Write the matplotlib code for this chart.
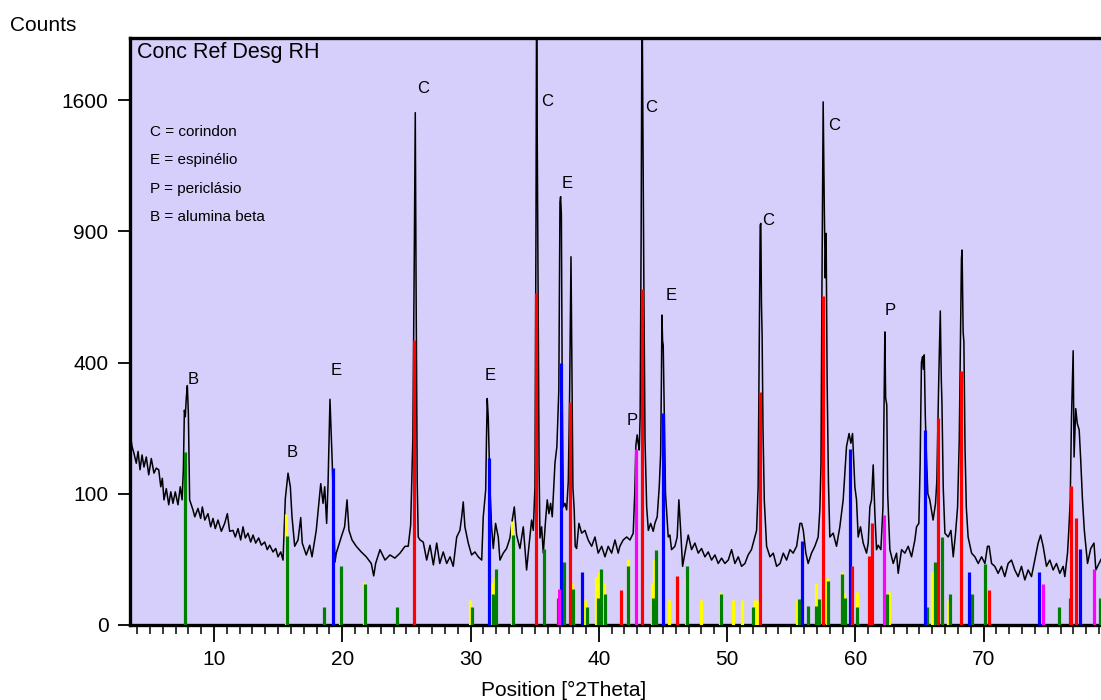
import numpy as np
import matplotlib
matplotlib.use('Agg')
import matplotlib.pyplot as plt
from matplotlib.ticker import NullLocator

plt.rcParams['font.family'] = ['Liberation Sans', 'DejaVu Sans']

# Measured pattern (position in deg 2Theta, counts)
two_theta = [
    3.45, 3.51, 3.61, 3.76, 3.94, 4.08, 4.23, 4.39, 4.54, 4.72, 4.91, 5.11, 5.32, 5.50, 5.69, 5.85,
    5.97, 6.10, 6.28, 6.47, 6.63, 6.80, 6.98, 7.19, 7.37, 7.51, 7.61, 7.69, 7.76, 7.84, 7.92, 8.00,
    8.10, 8.36, 8.50, 8.75, 8.96, 9.09, 9.28, 9.53, 9.74, 9.92, 10.10, 10.31, 10.57, 10.83, 11.04, 11.22,
    11.48, 11.66, 11.87, 12.08, 12.26, 12.44, 12.65, 12.86, 13.04, 13.25, 13.48, 13.69, 13.95, 14.15,
    14.34, 14.60, 14.81, 14.99, 15.20, 15.38, 15.56, 15.77, 15.95, 16.08, 16.29, 16.55, 16.76, 16.88,
    17.19, 17.46, 17.64, 17.97, 18.32, 18.50, 18.63, 18.78, 18.89, 19.04, 19.22, 19.43, 19.53, 19.92,
    20.18, 20.37, 20.52, 20.76, 21.09, 21.48, 21.87, 22.26, 22.45, 22.60, 22.94, 23.33, 23.72, 24.10,
    24.50, 24.89, 25.14, 25.33, 25.50, 25.60, 25.69, 25.76, 25.84, 25.92, 26.06, 26.31, 26.58, 26.84,
    27.10, 27.36, 27.60, 27.87, 28.14, 28.40, 28.65, 28.92, 29.17, 29.31, 29.43, 29.56, 29.82, 30.08,
    30.34, 30.60, 30.87, 30.99, 31.18, 31.24, 31.30, 31.38, 31.51, 31.64, 31.77, 31.95, 32.16, 32.29,
    32.55, 32.81, 33.07, 33.25, 33.41, 33.59, 33.85, 34.11, 34.37, 34.55, 34.76, 34.89, 35.02, 35.10,
    35.15, 35.20, 35.27, 35.34, 35.41, 35.54, 35.67, 35.85, 35.98, 36.11, 36.24, 36.37, 36.58, 36.73,
    36.88, 36.97, 37.02, 37.08, 37.15, 37.23, 37.36, 37.49, 37.62, 37.72, 37.83, 37.90, 37.98, 38.08,
    38.16, 38.27, 38.45, 38.66, 38.92, 39.17, 39.44, 39.70, 39.95, 40.22, 40.48, 40.73, 41.00, 41.26,
    41.51, 41.64, 41.90, 42.17, 42.43, 42.68, 42.80, 42.89, 42.99, 43.08, 43.15, 43.22, 43.30, 43.37,
    43.45, 43.52, 43.60, 43.73, 43.86, 44.04, 44.24, 44.37, 44.55, 44.71, 44.82, 44.88, 44.92, 44.97,
    45.02, 45.12, 45.20, 45.28, 45.41, 45.54, 45.67, 45.93, 46.11, 46.24, 46.38, 46.53, 46.71, 46.97,
    47.23, 47.49, 47.75, 48.01, 48.27, 48.53, 48.79, 49.05, 49.31, 49.57, 49.83, 50.09, 50.35, 50.61,
    50.87, 51.13, 51.39, 51.64, 51.90, 52.10, 52.30, 52.42, 52.52, 52.58, 52.63, 52.68, 52.73, 52.80,
    52.90, 53.08, 53.34, 53.60, 53.86, 54.13, 54.38, 54.64, 54.90, 55.15, 55.42, 55.68, 55.81, 55.94,
    56.14, 56.32, 56.58, 56.84, 57.10, 57.23, 57.32, 57.40, 57.49, 57.58, 57.65, 57.72, 57.80, 57.90,
    58.01, 58.27, 58.53, 58.79, 59.05, 59.31, 59.51, 59.65, 59.78, 59.96, 60.09, 60.22, 60.40, 60.61,
    60.87, 61.00, 61.13, 61.26, 61.39, 61.52, 61.65, 61.78, 61.99, 62.15, 62.24, 62.30, 62.36, 62.45,
    62.52, 62.69, 62.95, 63.21, 63.34, 63.60, 63.86, 64.12, 64.38, 64.64, 64.77, 64.95, 65.05, 65.15,
    65.24, 65.30, 65.37, 65.45, 65.55, 65.65, 65.80, 66.06, 66.25, 66.35, 66.50, 66.62, 66.70, 66.75,
    66.85, 66.98, 67.24, 67.45, 67.63, 67.81, 67.97, 68.10, 68.20, 68.27, 68.32, 68.40, 68.46, 68.55,
    68.65, 68.79, 69.06, 69.32, 69.58, 69.84, 70.10, 70.30, 70.43, 70.62, 70.87, 71.13, 71.39, 71.65,
    71.91, 72.17, 72.43, 72.69, 72.95, 73.21, 73.47, 73.73, 73.99, 74.25, 74.44, 74.64, 74.90, 75.16,
    75.42, 75.68, 75.94, 76.20, 76.33, 76.54, 76.64, 76.75, 76.85, 76.98, 77.05, 77.18, 77.30, 77.45,
    77.58, 77.70, 77.85, 78.10, 78.35, 78.60, 78.75, 79.15,
]
counts = [
    215, 203, 185, 171, 152, 175, 140, 168, 145, 164, 131, 161, 134, 143, 140, 111,
    125, 91, 108, 84, 103, 86, 103, 84, 111, 91, 140, 268, 252, 300, 333, 261,
    91, 77, 68, 79, 66, 81, 64, 72, 56, 66, 54, 64, 51, 60, 72, 51,
    52, 45, 54, 42, 56, 44, 49, 40, 47, 39, 44, 37, 40, 33,
    37, 31, 34, 27, 31, 24.5, 93, 134, 111, 68, 36, 42, 67, 39,
    28.5, 37, 27, 52, 116, 86, 111, 60, 116, 296, 151, 23, 30, 45,
    56, 91, 52, 42, 36, 31, 27, 22, 14, 22, 33, 24.5, 28.5, 26,
    30, 36, 36, 58, 200, 700, 1525, 600, 120, 45, 42, 40, 24.5, 37,
    21, 39, 22, 31, 22, 27, 20, 45, 52, 68, 88, 56, 39, 28.5,
    31, 27, 24.5, 68, 106, 200, 298, 250, 111, 56, 34, 60, 45, 24.5,
    30, 34, 44, 64, 81, 47, 34, 56, 17.6, 36, 64, 52, 111, 900,
    2400, 1370, 600, 150, 44, 56, 30, 64, 91, 72, 86, 68, 152, 185,
    320, 1040, 1066, 980, 300, 81, 86, 77, 120, 300, 788, 400, 110, 77,
    36, 34, 60, 49, 52, 42, 36, 45, 30, 36, 27, 36, 30, 42,
    30, 36, 42, 45, 42, 49, 100, 188, 210, 190, 178, 250, 900, 2400,
    1300, 600, 200, 81, 52, 60, 51, 60, 68, 111, 171, 350, 558, 470,
    455, 220, 100, 77, 45, 47, 33, 36, 45, 91, 52, 20, 30, 47,
    33, 39, 30, 34, 27, 31, 24.5, 28.5, 22, 26, 22, 24.5, 33, 22,
    27, 20, 22, 28.5, 33, 42, 52, 110, 500, 930, 937, 600, 488, 221,
    90, 36, 27, 30, 20, 22, 30, 24.5, 33, 30, 36, 60, 60, 52,
    30, 22, 30, 36, 45, 77, 150, 700, 1590, 1000, 700, 891, 340, 120,
    45, 49, 36, 56, 91, 185, 213, 192, 213, 111, 91, 45, 56, 39,
    30, 39, 81, 91, 149, 72, 33, 37, 33, 80, 300, 499, 300, 281,
    100, 33, 22, 30, 15.5, 33, 30, 36, 27, 42, 56, 60, 150, 400,
    418, 380, 424, 256, 160, 100, 91, 64, 86, 120, 350, 573, 350, 287,
    110, 49, 45, 52, 27, 49, 81, 200, 500, 780, 817, 500, 466, 180,
    80, 45, 30, 27, 22, 27, 22, 36, 36, 22, 20, 15.5, 20, 13.6,
    22, 24.5, 17.6, 13.6, 20, 11.8, 17.6, 13.6, 24.5, 39, 47, 36, 20, 24.5,
    17.6, 22, 15.5, 20, 13.6, 30, 52, 90, 250, 437, 164, 272, 236, 221,
    152, 93, 52, 22, 34, 39, 17.6, 25,
]

# Reference patterns (stick positions and heights)
corundum_pos = [25.56, 35.07, 37.72, 41.72, 43.36, 46.11, 52.53, 57.49, 59.75, 61.10, 61.26,
                66.45, 68.22, 70.43, 76.82, 77.19]
corundum_int = [472, 639, 290, 7.1, 656, 14.1, 315, 630, 20.2, 27.7, 60,
                250, 376, 7.2, 113, 67]

spinel_pos = [19.28, 31.43, 37.07, 38.70, 45.02, 55.85, 59.57, 65.44, 68.87, 74.28, 77.50]
spinel_int = [143, 162, 400, 16.5, 260, 41, 180, 221, 16.5, 16.5, 34]

periclase_pos = [36.91, 42.92, 62.24, 74.64, 78.61]
periclase_int = [7.5, 180, 70, 9.8, 18.2]

beta_pos = [7.76, 15.71, 18.60, 19.92, 21.79, 24.24, 30.11, 31.74, 31.98, 33.30, 35.74, 36.81,
            37.30, 37.96, 39.05, 39.90, 40.16, 40.50, 42.27, 44.24, 44.47, 46.89, 49.54, 52.05,
            55.62, 56.27, 56.92, 57.18, 57.83, 58.95, 59.18, 60.14, 62.48, 65.57, 66.20, 66.77,
            67.34, 69.10, 70.09, 75.84, 76.72, 79.10]
beta_int = [174, 46, 1.95, 20.4, 9.8, 1.95, 1.95, 5.6, 18.2, 47, 33.5, 4.1,
            23.3, 7.7, 1.95, 4.1, 18.2, 5.6, 20.4, 4.1, 32.4, 20.4, 5.6, 1.95,
            3.9, 2, 2, 3.9, 11.2, 14.9, 4.1, 1.95, 5.6, 1.95, 23.3, 44.7,
            5.6, 5.6, 21.4, 1.95, 4.1, 4.1]

other_pos = [15.59, 19.82, 21.69, 29.98, 31.64, 31.88, 33.20, 36.79, 37.88, 38.94, 39.80, 40.03,
             40.40, 42.24, 44.12, 44.32, 45.46, 46.81, 47.98, 49.44, 50.45, 51.20, 52.15, 52.38,
             55.44, 56.97, 57.80, 58.92, 59.13, 60.10, 62.63, 65.99, 67.19]
other_int = [71.6, 10.4, 10.6, 3.6, 10.1, 13.5, 63.2, 7.4, 10.1, 3.6, 13.2, 16.5,
             10.1, 25.1, 10.4, 25.1, 3.6, 13.5, 3.6, 6.4, 3.6, 3.6, 3.6, 3.6,
             3.6, 10.4, 13, 16.1, 6.1, 6.4, 6.4, 16.5, 3.6]

# Peak labels
label_text = ['B', 'B', 'E', 'C', 'E', 'C', 'E', 'P', 'C', 'E', 'C', 'C', 'P']
label_pos = [8.36, 16.08, 19.51, 26.29, 31.51, 35.95, 37.51, 42.58, 44.06, 45.62, 53.18, 58.32, 62.69]
label_cnt = [351, 172, 375, 1675, 363, 1595, 1134, 244, 1553, 629, 953, 1452, 576]

legend_lines = ['C = corindon', 'E = espinélio', 'P = periclásio', 'B = alumina beta']


def fwd(v):
    return np.sqrt(np.clip(v, 0, None))


def inv(v):
    return np.square(v)


fig = plt.figure(figsize=(11.01, 7.0), dpi=100)
ax = fig.add_axes([130 / 1101, 75 / 700, 971 / 1101, 587 / 700])
ax.set_facecolor('#D7CFFB')
ax.set_yscale('function', functions=(fwd, inv))

ax.plot(two_theta, counts, color='black', linewidth=1.1, zorder=2)

stick_lw = 2.3
ax.vlines(other_pos, 0, other_int, colors='#FFFF00', linewidth=stick_lw, zorder=3)
ax.vlines(beta_pos, 0, beta_int, colors='#008000', linewidth=stick_lw, zorder=3)
ax.vlines(spinel_pos, 0, spinel_int, colors='#0000FF', linewidth=stick_lw, zorder=3)
ax.vlines(periclase_pos, 0, periclase_int, colors='#FF00FF', linewidth=stick_lw, zorder=3)
ax.vlines(corundum_pos, 0, corundum_int, colors='#FF0000', linewidth=stick_lw, zorder=3)

for lab, p, c in zip(label_text, label_pos, label_cnt):
    ax.text(p, c, lab, ha='center', va='center', fontsize=12, zorder=4)

for i, line in enumerate(legend_lines):
    ax.text(0.021, 0.84 - i * 0.0485, line, transform=ax.transAxes,
            ha='left', va='center', fontsize=11)

ax.text(0.007, 0.976, 'Conc Ref Desg RH', transform=ax.transAxes,
        ha='left', va='center', fontsize=15.5)
fig.text(0.009, 0.964, 'Counts', ha='left', va='center', fontsize=15)

ax.set_xlim(3.45, 79.15)
ax.set_ylim(0, 2002)
ax.set_yticks([0, 100, 400, 900, 1600])
ax.yaxis.set_minor_locator(NullLocator())
ax.set_xticks(range(10, 80, 10))
ax.set_xticks(range(4, 80), minor=True)
ax.tick_params(axis='x', which='major', length=12, width=1.3, labelsize=15, pad=6)
ax.tick_params(axis='x', which='minor', length=6.5, width=1.1)
ax.tick_params(axis='y', which='major', length=8.5, width=1.3, labelsize=15, pad=7)

for side in ['left', 'bottom', 'top']:
    ax.spines[side].set_linewidth(2.4)
ax.spines['right'].set_visible(False)

ax.set_xlabel('Position [°2Theta]', fontsize=15)
ax.xaxis.set_label_coords(0.447, -0.095)

fig.savefig('out.png', dpi=100)
